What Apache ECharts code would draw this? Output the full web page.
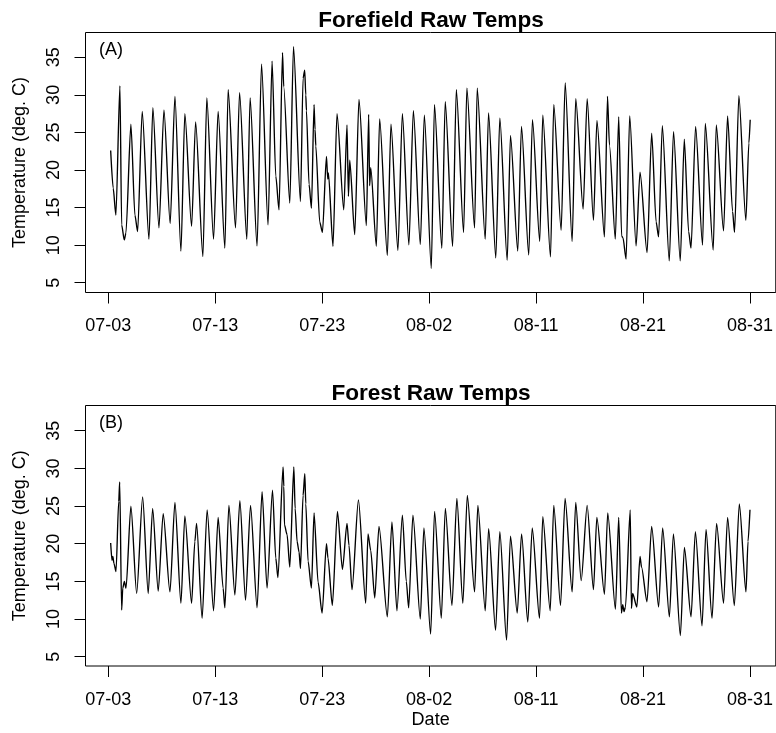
<!DOCTYPE html>
<html>
<head>
<meta charset="utf-8">
<script src="https://cdn.jsdelivr.net/npm/echarts@6/dist/echarts.min.js"></script>
<style>
  html, body { margin: 0; padding: 0; background: #fff; }
  #chart { width: 776px; height: 733px; }
</style>
</head>
<body>
<div id="chart"></div>
<script>
// Date axis: days since 07-03 00:00, labelled at seven evenly spaced positions
const tickDays = [0, 9.833, 19.667, 29.5, 39.333, 49.167, 59];
const tickLabels = ['07-03', '07-13', '07-23', '08-02', '08-11', '08-21', '08-31'];
const tempTicks = [5, 10, 15, 20, 25, 30, 35];

// (A) Forefield logger: turning points of the raw temperature trace
const forefieldDay = [
  0.22, 0.45, 0.70, 1.07, 1.23, 1.47, 1.62, 2.08, 2.45, 2.70,
  3.12, 3.74, 4.10, 4.66, 5.12, 5.69, 6.13, 6.68, 7.04, 7.66,
  8.03, 8.70, 9.06, 9.68, 10.10, 10.72, 11.02, 11.70, 12.07, 12.74,
  13.04, 13.68, 14.09, 14.69, 15.06, 15.40, 15.70, 16.02, 16.13, 16.69,
  17.03, 17.67, 17.91, 18.06, 18.16, 18.22, 18.46, 18.68, 18.92, 19.01,
  19.08, 19.44, 19.69, 20.06, 20.18, 20.24, 20.66, 21.03, 21.65, 21.95,
  22.08, 22.20, 22.66, 23.05, 23.73, 23.94, 24.03, 24.13, 24.65, 24.95,
  25.66, 25.99, 26.63, 27.04, 27.64, 28.05, 28.69, 29.06, 29.70, 29.99,
  30.67, 30.98, 31.66, 32.00, 32.67, 32.97, 33.68, 33.92, 34.66, 34.96,
  35.63, 36.00, 36.68, 36.98, 37.65, 37.99, 38.66, 39.00, 39.67, 39.95,
  40.66, 40.96, 41.64, 42.01, 42.65, 42.98, 43.66, 44.03, 44.61, 44.93,
  45.62, 45.90, 46.08, 46.62, 46.93, 47.20, 47.32, 47.61, 47.94, 48.53,
  48.89, 49.54, 49.96, 50.37, 50.60, 50.94, 51.58, 51.97, 52.59, 52.96,
  53.36, 53.58, 54.00, 54.64, 54.89, 55.62, 55.90, 56.57, 56.94, 57.40,
  57.58, 57.98, 58.62, 58.90, 59.02
];
const forefieldTemp = [
  22.6, 17.6, 14.0, 31.2, 12.7, 10.7, 11.6, 26.1, 14.0, 11.8,
  27.8, 10.8, 28.3, 12.3, 28.0, 12.9, 29.8, 9.2, 27.5, 12.5,
  26.4, 8.5, 29.6, 10.8, 27.8, 9.6, 30.7, 12.3, 30.3, 10.8,
  29.6, 9.9, 34.1, 12.7, 34.5, 19.2, 14.7, 35.6, 31.1, 15.6,
  36.4, 15.8, 32.2, 33.3, 30.0, 27.9, 18.1, 14.9, 28.7, 25.4,
  23.2, 13.1, 11.7, 21.8, 18.8, 19.6, 9.85, 27.5, 14.7, 26.0,
  16.5, 21.3, 11.4, 29.4, 12.6, 27.4, 17.9, 20.3, 9.85, 26.8,
  8.65, 26.1, 9.3, 27.5, 10.05, 27.9, 10.1, 27.3, 6.9, 28.7,
  9.6, 29.1, 9.85, 30.7, 11.7, 30.9, 12.3, 30.9, 10.8, 27.6,
  8.3, 26.9, 8.0, 24.6, 9.2, 25.8, 8.7, 26.7, 10.5, 27.3,
  8.45, 28.7, 12.0, 31.6, 10.5, 29.5, 14.8, 29.5, 13.3, 26.6,
  11.1, 29.8, 23.3, 10.8, 27.1, 11.2, 11.0, 8.15, 27.2, 9.9,
  19.7, 9.0, 24.9, 13.1, 11.1, 25.9, 7.9, 25.1, 7.9, 24.1,
  11.8, 9.6, 25.8, 10.0, 26.2, 9.35, 26.0, 11.9, 27.2, 14.5,
  11.7, 29.9, 13.3, 23.6, 26.7
];

// (B) Forest logger: turning points of the raw temperature trace
const forestDay = [
  0.22, 0.34, 0.42, 0.52, 0.71, 0.96, 1.05, 1.23, 1.33, 1.48,
  1.63, 2.08, 2.61, 3.16, 3.67, 4.08, 4.59, 5.05, 5.67, 6.13,
  6.68, 7.04, 7.66, 7.96, 8.12, 8.63, 9.09, 9.68, 10.10, 10.56,
  10.72, 11.09, 11.64, 12.10, 12.62, 13.08, 13.68, 14.14, 14.60, 15.10,
  15.40, 15.60, 16.07, 16.14, 16.20, 16.44, 16.69, 17.06, 17.18, 17.36,
  17.54, 17.67, 17.91, 18.07, 18.16, 18.37, 18.68, 18.92, 19.29, 19.66,
  20.06, 20.20, 20.60, 21.07, 21.53, 21.95, 22.13, 22.41, 23.00, 23.67,
  23.88, 24.13, 24.50, 24.89, 25.66, 26.08, 26.54, 27.04, 27.40, 27.62,
  28.01, 28.69, 29.02, 29.64, 30.00, 30.62, 30.99, 31.60, 32.05, 32.60,
  33.01, 33.68, 33.98, 34.66, 34.97, 35.61, 36.00, 36.62, 36.98, 37.60,
  38.00, 38.57, 38.98, 39.65, 39.95, 40.63, 40.96, 41.58, 42.00, 42.65,
  42.98, 43.48, 44.03, 44.61, 44.92, 45.62, 45.92, 46.63, 46.93, 47.18,
  47.30, 47.42, 47.55, 47.99, 48.10, 48.21, 48.60, 48.89, 49.03, 49.53,
  49.96, 50.60, 50.97, 51.59, 51.96, 52.60, 52.97, 53.58, 53.98, 54.59,
  54.96, 55.51, 55.93, 56.57, 56.94, 57.56, 58.02, 58.63, 58.82, 59.00
];
const forestTemp = [
  20.1, 17.8, 18.3, 17.4, 16.3, 25.6, 28.2, 11.2, 14.1, 15.0,
  14.1, 25.0, 13.4, 26.2, 13.4, 24.7, 13.7, 24.0, 13.6, 25.5,
  12.1, 23.7, 12.1, 20.3, 22.7, 10.1, 24.5, 11.1, 23.5, 14.1,
  11.5, 25.1, 13.2, 25.7, 12.5, 25.1, 11.5, 26.9, 14.1, 27.1,
  18.1, 15.5, 30.2, 27.6, 22.5, 21.2, 16.9, 30.2, 24.7, 20.3,
  18.9, 16.7, 26.4, 29.3, 25.3, 17.7, 14.1, 24.1, 14.9, 10.8,
  20.0, 18.1, 11.8, 24.3, 16.6, 22.7, 19.8, 13.9, 25.8, 12.1,
  21.3, 19.1, 12.8, 22.3, 10.3, 22.9, 11.1, 23.8, 15.0, 11.5,
  23.8, 10.0, 22.1, 8.0, 24.3, 10.1, 24.7, 11.8, 26.0, 12.1,
  26.4, 13.6, 25.1, 11.1, 22.0, 8.5, 21.6, 7.2, 21.0, 10.8,
  21.3, 9.6, 22.1, 10.1, 23.6, 11.1, 25.1, 11.8, 26.0, 13.6,
  25.5, 15.1, 25.1, 13.9, 23.5, 13.3, 24.1, 11.3, 23.5, 10.8,
  11.9, 11.0, 11.6, 24.5, 11.4, 13.4, 11.6, 18.3, 16.9, 12.3,
  22.3, 11.6, 22.1, 10.3, 21.3, 7.8, 19.5, 10.3, 21.6, 9.1,
  21.9, 10.1, 22.7, 12.1, 23.5, 11.8, 25.3, 13.6, 20.3, 24.5
];

const FONT = '"Liberation Sans", Arial, Helvetica, sans-serif';
const DAY_MIN = -2.094;
const DAY_MAX = 61.37;

function pairs(days, temps) {
  return days.map((d, i) => [d, temps[i]]);
}

function dateLabel(v) {
  let best = 0;
  tickDays.forEach((t, i) => {
    if (Math.abs(t - v) < Math.abs(tickDays[best] - v)) best = i;
  });
  return tickLabels[best];
}

function xAxisFor(gridIndex, withName) {
  const ax = {
    type: 'value',
    gridIndex: gridIndex,
    min: DAY_MIN,
    max: DAY_MAX,
    axisLine: { show: false, onZero: false },
    splitLine: { show: false },
    axisTick: {
      show: true,
      customValues: tickDays,
      length: 11,
      inside: false,
      lineStyle: { color: '#000', width: 1 }
    },
    axisLabel: {
      customValues: tickDays,
      formatter: dateLabel,
      margin: 25,
      fontSize: 18,
      color: '#000',
      fontFamily: FONT
    }
  };
  if (withName) {
    ax.name = 'Date';
    ax.nameLocation = 'middle';
    ax.nameGap = 45;
    ax.nameTextStyle = { fontSize: 18, color: '#000', fontFamily: FONT };
  }
  return ax;
}

function yAxisFor(gridIndex, min, max) {
  return {
    type: 'value',
    gridIndex: gridIndex,
    min: min,
    max: max,
    axisLine: { show: false, onZero: false },
    splitLine: { show: false },
    axisTick: {
      show: true,
      customValues: tempTicks,
      length: 11,
      inside: false,
      lineStyle: { color: '#000', width: 1 }
    },
    axisLabel: {
      customValues: tempTicks,
      rotate: 90,
      margin: 22.5,
      fontSize: 18,
      color: '#000',
      fontFamily: FONT
    },
    name: 'Temperature (deg. C)',
    nameLocation: 'middle',
    nameRotate: 90,
    nameGap: 56,
    nameTextStyle: { fontSize: 18, color: '#000', fontFamily: FONT }
  };
}

function label(text, x, y, align, size, weight) {
  return {
    type: 'text',
    x: x,
    y: y,
    silent: true,
    style: {
      text: text,
      fill: '#000',
      font: (weight || 'normal') + ' ' + size + 'px ' + FONT,
      textAlign: align,
      align: align,
      textVerticalAlign: 'middle',
      verticalAlign: 'middle'
    }
  };
}

const lineStyle = { color: '#000', width: 1.35 };

const chart = echarts.init(document.getElementById('chart'), null, { renderer: 'canvas' });
chart.setOption({
  animation: false,
  backgroundColor: '#fff',
  grid: [
    { left: 85.5, top: 32.5, width: 691, height: 260, show: true, borderColor: '#000', borderWidth: 1, backgroundColor: 'transparent' },
    { left: 85.5, top: 405.5, width: 691, height: 260.5, show: true, borderColor: '#000', borderWidth: 1, backgroundColor: 'transparent' }
  ],
  xAxis: [xAxisFor(0, false), xAxisFor(1, true)],
  yAxis: [yAxisFor(0, 3.70, 38.30), yAxisFor(1, 3.77, 38.35)],
  graphic: [
    label('Forefield Raw Temps', 431, 20.5, 'center', 22.6, 'bold'),
    label('Forest Raw Temps', 431, 394, 'center', 22.6, 'bold'),
    label('(A)', 99, 50, 'left', 18),
    label('(B)', 99, 423.5, 'left', 18)
  ],
  series: [
    {
      name: 'Forefield',
      type: 'line',
      xAxisIndex: 0,
      yAxisIndex: 0,
      data: pairs(forefieldDay, forefieldTemp),
      showSymbol: false,
      symbol: 'none',
      smooth: 0.25,
      smoothMonotone: 'x',
      clip: false,
      lineStyle: lineStyle
    },
    {
      name: 'Forest',
      type: 'line',
      xAxisIndex: 1,
      yAxisIndex: 1,
      data: pairs(forestDay, forestTemp),
      showSymbol: false,
      symbol: 'none',
      smooth: 0.25,
      smoothMonotone: 'x',
      clip: false,
      lineStyle: lineStyle
    }
  ]
});
</script>
</body>
</html>
